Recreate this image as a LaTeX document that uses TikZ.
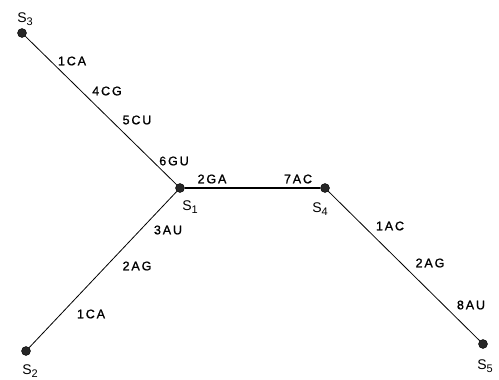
\documentclass[tikz,border=0pt]{standalone}
\usepackage{fontspec}
\setmainfont{Liberation Sans}
\newfontfamily\lblfont[LetterSpace=15,FakeBold=1.2]{Liberation Sans}
\newcommand\sidx[2]{#1\raisebox{-0.45ex}{\fontsize{11}{11}\selectfont #2}}

\begin{document}
\begin{tikzpicture}[x=1pt,y=-1pt,
  site/.style={circle,fill=black!85,draw=black,inner sep=0pt,minimum size=9pt},
  seq/.style={font=\lblfont\fontsize{12.5}{13}\selectfont,inner sep=0pt},
  tag/.style={font=\fontsize{14}{15}\selectfont,inner sep=0pt}]
\useasboundingbox (0,0) rectangle (499,380);

% sites
\node[site] (s1) at (180,188) {};
\node[site] (s2) at (26,351) {};
\node[site] (s3) at (22,33) {};
\node[site] (s4) at (325,188) {};
\node[site] (s5) at (483,344) {};

\node[tag] (l1) at (190,207) {\sidx{S}{1}};
\node[tag] (l2) at (30,371) {\sidx{S}{2}};
\node[tag] (l3) at (25,19) {\sidx{S}{3}};
\node[tag] (l4) at (320,209) {\sidx{S}{4}};
\node[tag] (l5) at (485,366) {\sidx{S}{5}};

% branches
\draw[line width=0.8pt] (s3) -- (s1);
\draw[line width=0.8pt] (s2) -- (s1);
\draw[line width=1.4pt] (s1) -- (s4);
\draw[line width=0.8pt] (s4) -- (s5);

% substitutions
\node[seq] (a1) at (72,61) {1CA};
\node[seq] (a2) at (107,91) {4CG};
\node[seq] (a3) at (137,120) {5CU};
\node[seq] (a4) at (174,161) {6GU};
\node[seq] (b1) at (212,179) {2GA};
\node[seq] (b2) at (298,179) {7AC};
\node[seq] (c1) at (168,230) {3AU};
\node[seq] (c2) at (137,266) {2AG};
\node[seq] (c3) at (91,314) {1CA};
\node[seq] (d1) at (390,226) {1AC};
\node[seq] (d2) at (430,263) {2AG};
\node[seq] (d3) at (471,305) {8AU};

\end{tikzpicture}
\end{document}
